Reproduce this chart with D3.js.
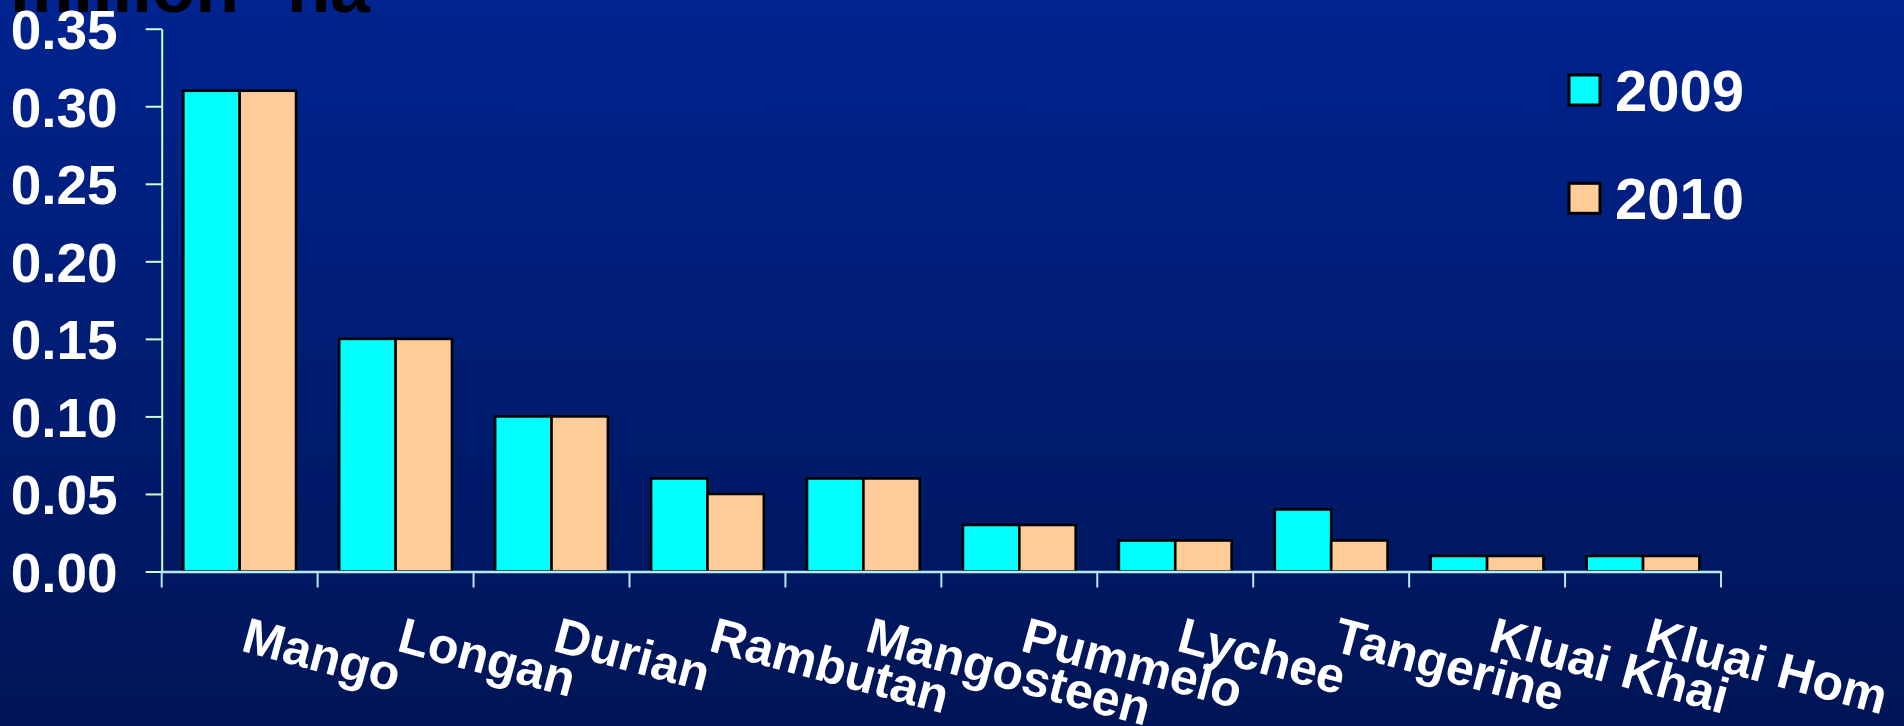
<!DOCTYPE html>
<html>
<head>
<meta charset="utf-8">
<script src="https://cdn.jsdelivr.net/npm/d3@7"></script>
<style>
  html, body { margin: 0; padding: 0; background: #001a6e; }
  svg { display: block; }
  text { font-family: "Liberation Sans", Arial, sans-serif; font-weight: bold; }
</style>
</head>
<body>
<svg id="chart" width="1904" height="726"></svg>
<script>
// ---- data ----
const categories = ["Mango", "Longan", "Durian", "Rambutan", "Mangosteen", "Pummelo", "Lychee", "Tangerine", "Kluai Khai", "Kluai Hom"];
const seriesNames = ["2009", "2010"];
const values2009 = [0.31, 0.15, 0.10, 0.06, 0.06, 0.03, 0.02, 0.04, 0.01, 0.01];
const values2010 = [0.31, 0.15, 0.10, 0.05, 0.06, 0.03, 0.02, 0.02, 0.01, 0.01];
const yTicks = [0.00, 0.05, 0.10, 0.15, 0.20, 0.25, 0.30, 0.35];
const titleWords = ["million", "ha"];

const seriesValues = [values2009, values2010];
const colors = ["#00ffff", "#ffcc99"];

const svg = d3.select("#chart");
const W = 1904, H = 726;

// background gradient
const defs = svg.append("defs");
const grad = defs.append("linearGradient").attr("id", "bg").attr("x1", 0).attr("y1", 0).attr("x2", 0).attr("y2", 1);
grad.append("stop").attr("offset", "0%").attr("stop-color", "#00238f");
grad.append("stop").attr("offset", "100%").attr("stop-color", "#001556");
svg.append("rect").attr("width", W).attr("height", H).attr("fill", "url(#bg)");

// scales
const x = d3.scaleBand().domain(categories).range([161.7, 1721]).padding(0);
const bw = x.bandwidth();
const off = bw * 0.1385;
const x1 = d3.scaleBand().domain(seriesNames).range([off, bw - off]).padding(0);
const y = d3.scaleLinear().domain([0, 0.35]).range([571.5, 28.7]);

// title (cut off at top)
const title = svg.append("text").attr("x", 10).attr("y", 12).attr("font-size", 71).attr("fill", "#000");
title.append("tspan").text(titleWords[0]);
title.append("tspan").attr("x", 287).text(titleWords[1]);

// bars
const groups = svg.append("g").selectAll("g").data(categories).join("g")
  .attr("transform", d => `translate(${x(d)},0)`);
groups.selectAll("rect").data((d, i) => seriesNames.map((s, k) => ({ s, v: seriesValues[k][i], k })))
  .join("rect")
  .attr("x", d => x1(d.s))
  .attr("width", x1.bandwidth())
  .attr("y", d => y(d.v))
  .attr("height", d => y(0) - y(d.v))
  .attr("fill", d => colors[d.k])
  .attr("stroke", "#000")
  .attr("stroke-width", 2.6);

// y axis
const yAxis = svg.append("g").attr("transform", `translate(${x.range()[0]},0)`)
  .call(d3.axisLeft(y).tickValues(yTicks).tickFormat(d3.format(".2f")).tickSize(16).tickSizeOuter(0).tickPadding(28));
yAxis.select(".domain").attr("stroke", "#ccffcc").attr("stroke-width", 2);
yAxis.selectAll(".tick line").attr("stroke", "#ccffcc").attr("stroke-width", 2);
yAxis.selectAll(".tick text").attr("fill", "#fff").attr("font-size", 55)
  .attr("font-family", "'Liberation Sans', Arial, sans-serif").attr("font-weight", "bold")
  .attr("dy", "0.36em");

// x axis (labels at band centers)
const xAxis = svg.append("g").attr("transform", `translate(0,${y(0)})`)
  .call(d3.axisBottom(x).tickSize(0).tickSizeOuter(0));
xAxis.select(".domain").attr("stroke", "#b3ecf5").attr("stroke-width", 2.5);
xAxis.selectAll(".tick text")
  .attr("fill", "#fff").attr("font-size", 50)
  .attr("font-family", "'Liberation Sans', Arial, sans-serif").attr("font-weight", "bold")
  .attr("text-anchor", "start").attr("y", 0).attr("dy", 0)
  .attr("transform", "translate(0,79) rotate(15)");

// boundary tick marks
const bounds = categories.map(c => x(c)).concat([x.range()[1]]);
svg.append("g").selectAll("line").data(bounds).join("line")
  .attr("x1", d => d).attr("x2", d => d)
  .attr("y1", y(0)).attr("y2", y(0) + 16)
  .attr("stroke", "#b3ecf5").attr("stroke-width", 2);

// legend
const legend = svg.append("g").attr("transform", "translate(1569,75)");
const li = legend.selectAll("g").data(seriesNames).join("g")
  .attr("transform", (d, i) => `translate(0,${i * 108.3})`);
li.append("rect").attr("width", 31).attr("height", 30)
  .attr("fill", (d, i) => colors[i]).attr("stroke", "#000").attr("stroke-width", 3);
li.append("text").attr("x", 46).attr("y", 36).attr("font-size", 58).attr("fill", "#fff").text(d => d);
</script>
</body>
</html>
